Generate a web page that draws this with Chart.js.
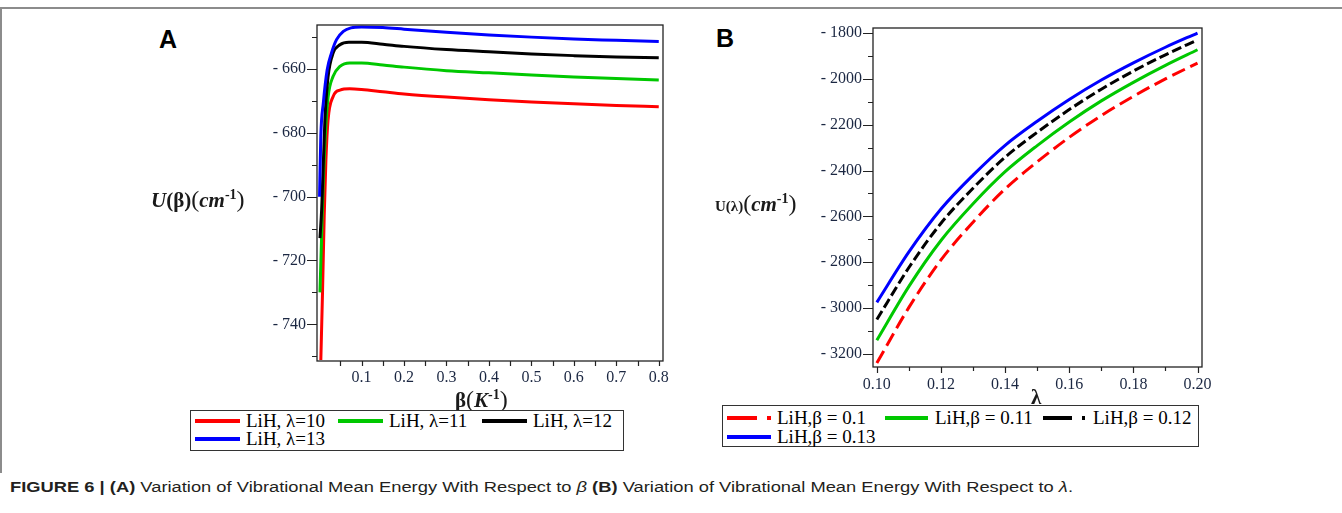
<!DOCTYPE html>
<html>
<head>
<meta charset="utf-8">
<script src="https://cdn.jsdelivr.net/npm/chart.js@4.4.1/dist/chart.umd.min.js"></script>
<style>
    body { margin: 0; width: 1342px; height: 513px; background: #fff; position: relative; overflow: hidden; font-family: "Liberation Serif", "Times New Roman", serif; color: #000; }
    .abs { position: absolute; white-space: nowrap; }
    #frameTop { left: 0; top: 7px; width: 1342px; height: 2px; background: #8c8c8c; }
    #frameLeft { left: 0; top: 7px; width: 2px; height: 466px; background: #8c8c8c; }
    .panelTag { font-family: "Liberation Sans", Arial, sans-serif; font-weight: bold; font-size: 25px; line-height: 25px; }
    .axTitle { font-weight: bold; font-size: 21px; line-height: 24px; color: #1a1a1a; }
    .axTitle .par { font-size: 24px; font-weight: normal; }
    .axTitle sup { font-size: 14px; vertical-align: 8px; }
    .legend { border: 1.5px solid #333; box-sizing: border-box; background: #fff; }
    .legend .txt { position: absolute; font-size: 19px; line-height: 19px; white-space: nowrap; }
    .legend .ln { position: absolute; height: 4px; }
    #caption { left: 10px; top: 478px; font-family: "Liberation Sans", Arial, sans-serif; font-size: 15.5px; line-height: 18px; color: #231f20; transform-origin: 0 0; }
</style>
</head>
<body>
<div id="frameTop" class="abs"></div>
<div id="frameLeft" class="abs"></div>

<div class="abs panelTag" style="left:159px; top:27px;">A</div>
<div class="abs panelTag" style="left:716px; top:26px;">B</div>

<canvas id="chartA" class="abs" width="440" height="400" style="left:240px; top:0; width:440px; height:400px;"></canvas>
<canvas id="chartB" class="abs" width="430" height="400" style="left:790px; top:0; width:430px; height:400px;"></canvas>

<!-- tiêu đề trục -->
<div class="abs axTitle" style="left:151px; top:183px;"><i>U</i>(β)<span class="par">(</span><i>cm</i><sup>-1</sup><span class="par">)</span></div>
<div class="abs axTitle" style="left:455px; top:383px;">β<span class="par">(</span><i>K</i><sup>-1</sup><span class="par">)</span></div>
<div class="abs axTitle" style="left:715px; top:187px;"><span style="font-size:15px">U(λ)</span><span class="par">(</span><i>cm</i><sup>-1</sup><span class="par">)</span></div>
<div class="abs axTitle" style="left:1031px; top:385px;">λ</div>

<div id="legendA" class="abs legend" style="left:190px; top:410px; width:434px; height:41px;"></div>
<div id="legendB" class="abs legend" style="left:722px; top:405px; width:477px; height:42px;"></div>

<div id="caption" class="abs"><b>FIGURE 6 | (A)</b> Variation of Vibrational Mean Energy With Respect to <i>β</i> <b>(B)</b> Variation of Vibrational Mean Energy With Respect to <i>λ</i>.</div>

<script>
// ---- Panel A: U(β), LiH, λ = 10..13 ----
const betaRed   = [0.004, 0.008, 0.012, 0.016, 0.021, 0.033, 0.049, 0.072, 0.1, 0.15, 0.2, 0.3, 0.4, 0.5, 0.6, 0.7, 0.8];
const uRed      = [-751.2, -730, -706, -688.5, -676, -668.6, -666.6, -666.2, -666.4, -667.1, -667.8, -668.8, -669.6, -670.3, -670.9, -671.4, -671.8];
const betaGreen = [0.002, 0.006, 0.0096, 0.0136, 0.021, 0.033, 0.049, 0.072, 0.1, 0.15, 0.2, 0.3, 0.4, 0.5, 0.6, 0.7, 0.8];
const uGreen    = [-730, -712, -696, -683, -669, -662.3, -659.2, -658.1, -658.1, -658.7, -659.4, -660.5, -661.2, -661.9, -662.5, -663.0, -663.4];
const betaBlack = [0.002, 0.006, 0.0136, 0.021, 0.033, 0.049, 0.07, 0.1, 0.15, 0.2, 0.3, 0.4, 0.5, 0.6, 0.7, 0.8];
const uBlack    = [-713, -704, -676, -662.5, -655, -652.4, -651.6, -651.6, -652.2, -652.9, -653.9, -654.6, -655.3, -655.8, -656.2, -656.5];
const betaBlue  = [0.001, 0.004, 0.01, 0.019, 0.029, 0.041, 0.057, 0.075, 0.1, 0.15, 0.2, 0.3, 0.4, 0.5, 0.6, 0.7, 0.8];
const uBlue     = [-700, -681, -670.5, -660.2, -655, -650.8, -648.2, -647.1, -646.8, -647.0, -647.5, -648.5, -649.3, -650.0, -650.6, -651.0, -651.4];
const labelsA   = ["LiH, λ=10", "LiH, λ=11", "LiH, λ=12", "LiH, λ=13"];

const betaTicks  = [0.05, 0.1, 0.15, 0.2, 0.25, 0.3, 0.35, 0.4, 0.45, 0.5, 0.55, 0.6, 0.65, 0.7, 0.75, 0.8];
const uBetaTicks = [-750, -740, -730, -720, -710, -700, -690, -680, -670, -660, -650];

// ---- Panel B: U(λ), LiH, β = 0.1..0.13 ----
const lambdaVals = [0.10, 0.11, 0.12, 0.13, 0.14, 0.15, 0.16, 0.17, 0.18, 0.19, 0.20];
const uB010 = [-3240, -2997, -2790, -2625, -2480, -2362, -2255, -2160, -2076, -2000, -1931];
const uB011 = [-3140, -2905, -2705, -2545, -2405, -2291, -2188, -2096, -2015, -1941, -1873];
const uB012 = [-3050, -2823, -2630, -2477, -2342, -2233, -2134, -2045, -1966, -1895, -1830];
const uB013 = [-2975, -2755, -2568, -2420, -2290, -2185, -2090, -2005, -1930, -1862, -1800];
const labelsB = ["LiH,β = 0.1", "LiH,β = 0.11", "LiH,β = 0.12", "LiH,β = 0.13"];

const lambdaTicks  = [0.10, 0.11, 0.12, 0.13, 0.14, 0.15, 0.16, 0.17, 0.18, 0.19, 0.20];
const uLambdaTicks = [-3200, -3100, -3000, -2900, -2800, -2700, -2600, -2500, -2400, -2300, -2200, -2100, -2000, -1900, -1800];

const RED = "#ff0000", GREEN = "#00c800", BLACK = "#000000", BLUE = "#0000ff";
const TICK_COLOR = "#1b2742";
const TICK_FONT = { family: "'Liberation Serif', 'Times New Roman', serif", size: 16 };

const isMultiple = (v, step) => Math.abs(v / step - Math.round(v / step)) < 1e-6;
const yLabel = v => "- " + Math.abs(v);

function toPoints(xs, ys) {
    return xs.map((x, i) => ({ x: x, y: ys[i] }));
}

// Khung + vạch chia (dài / ngắn)
const frameTicks = {
    id: "frameTicks",
    afterDraw(chart, args, opts) {
        const { ctx, chartArea: a, scales } = chart;
        ctx.save();
        ctx.strokeStyle = "#222";
        ctx.lineWidth = 1.3;
        ctx.strokeRect(a.left, a.top, a.right - a.left, a.bottom - a.top);
        ctx.lineWidth = 1.2;
        ctx.beginPath();
        scales.y.ticks.forEach(t => {
            const y = Math.round(scales.y.getPixelForValue(t.value)) + 0.5;
            const len = t.label ? opts.yMajor : opts.yMinor;
            ctx.moveTo(a.left - len, y);
            ctx.lineTo(a.left, y);
        });
        scales.x.ticks.forEach(t => {
            const x = Math.round(scales.x.getPixelForValue(t.value)) + 0.5;
            const len = t.label ? opts.xMajor : opts.xMinor;
            ctx.moveTo(x, a.bottom);
            ctx.lineTo(x, a.bottom + len);
        });
        ctx.stroke();
        ctx.restore();
    }
};

function axis(min, max, values, tickLen, pad, labelFn, fitFn) {
    return {
        type: "linear", min: min, max: max,
        afterBuildTicks: s => { s.ticks = values.map(v => ({ value: v })); },
        afterFit: fitFn,
        grid: { drawOnChartArea: false, drawTicks: true, tickLength: tickLen, color: "rgba(0,0,0,0)" },
        border: { display: false },
        ticks: { autoSkip: false, maxRotation: 0, padding: pad, color: TICK_COLOR, font: TICK_FONT, callback: labelFn }
    };
}

function line(label, pts, color, dash, order) {
    return {
        label: label, data: pts, borderColor: color, backgroundColor: color, borderWidth: 3,
        borderDash: dash || [], pointRadius: 0, fill: false, cubicInterpolationMode: "monotone", order: order
    };
}

const common = {
    responsive: false, animation: false, devicePixelRatio: 1,
    plugins: { legend: { display: false }, tooltip: { enabled: false } }
};

new Chart(document.getElementById("chartA"), {
    type: "line",
    data: {
        datasets: [
            line(labelsA[0], toPoints(betaRed, uRed), RED, null, 4),
            line(labelsA[1], toPoints(betaGreen, uGreen), GREEN, null, 3),
            line(labelsA[2], toPoints(betaBlack, uBlack), BLACK, null, 2),
            line(labelsA[3], toPoints(betaBlue, uBlue), BLUE, null, 1)
        ]
    },
    options: Object.assign({}, common, {
        layout: { padding: { left: 0, top: 25, right: 17, bottom: 0 } },
        scales: {
            x: axis(-0.005, 0.81, betaTicks, 5, 2, v => isMultiple(v, 0.1) ? v.toFixed(1) : "", s => { s.height = 39; }),
            y: axis(-751.5, -646.2, uBetaTicks, 10, 1, v => isMultiple(v, 20) ? yLabel(v) : "", s => { s.width = 77; })
        },
        plugins: Object.assign({}, common.plugins, { frameTicks: { yMajor: 10, yMinor: 5, xMajor: 5, xMinor: 5 } })
    }),
    plugins: [frameTicks]
});

new Chart(document.getElementById("chartB"), {
    type: "line",
    data: {
        datasets: [
            line(labelsB[0], toPoints(lambdaVals, uB010), RED, [14, 6], 4),
            line(labelsB[1], toPoints(lambdaVals, uB011), GREEN, null, 3),
            line(labelsB[2], toPoints(lambdaVals, uB012), BLACK, [10, 4], 2),
            line(labelsB[3], toPoints(lambdaVals, uB013), BLUE, null, 1)
        ]
    },
    options: Object.assign({}, common, {
        layout: { padding: { left: 0, top: 28, right: 18, bottom: 0 } },
        scales: {
            x: axis(0.0988, 0.2014, lambdaTicks, 6, 2, v => isMultiple(v, 0.02) ? v.toFixed(2) : "", s => { s.height = 33; }),
            y: axis(-3257, -1778, uLambdaTicks, 10, 1, v => isMultiple(v, 200) ? yLabel(v) : "", s => { s.width = 83; })
        },
        plugins: Object.assign({}, common.plugins, { frameTicks: { yMajor: 10, yMinor: 5, xMajor: 6, xMinor: 4 } })
    }),
    plugins: [frameTicks]
});

// Chú giải dạng HTML
function buildLegend(id, items) {
    const box = document.getElementById(id);
    items.forEach(it => {
        it.segs.forEach(sg => {
            const d = document.createElement("div");
            d.className = "ln";
            d.style.cssText = `left:${sg[0]}px; width:${sg[1] - sg[0]}px; top:${it.cy - 2}px; background:${it.color};`;
            box.appendChild(d);
        });
        const t = document.createElement("div");
        t.className = "txt";
        t.style.cssText = `left:${it.tx}px; top:${it.cy - 10}px;`;
        t.textContent = it.text;
        box.appendChild(t);
    });
}

buildLegend("legendA", [
    { text: labelsA[0], color: RED,   segs: [[4, 49]],   tx: 55,  cy: 10 },
    { text: labelsA[1], color: GREEN, segs: [[147, 192]], tx: 198, cy: 10 },
    { text: labelsA[2], color: BLACK, segs: [[291, 336]], tx: 342, cy: 10 },
    { text: labelsA[3], color: BLUE,  segs: [[4, 49]],   tx: 55,  cy: 28 }
]);
buildLegend("legendB", [
    { text: labelsB[0], color: RED,   segs: [[4, 34], [44, 48]],   tx: 54,  cy: 12 },
    { text: labelsB[1], color: GREEN, segs: [[162, 205]],          tx: 212, cy: 12 },
    { text: labelsB[2], color: BLACK, segs: [[320, 349], [359, 362]], tx: 370, cy: 12 },
    { text: labelsB[3], color: BLUE,  segs: [[4, 48]],            tx: 54,  cy: 31 }
]);

// Co giãn chú thích cho vừa bề rộng
const cap = document.getElementById("caption");
cap.style.transform = `scaleX(${1063 / cap.getBoundingClientRect().width})`;
</script>
</body>
</html>
